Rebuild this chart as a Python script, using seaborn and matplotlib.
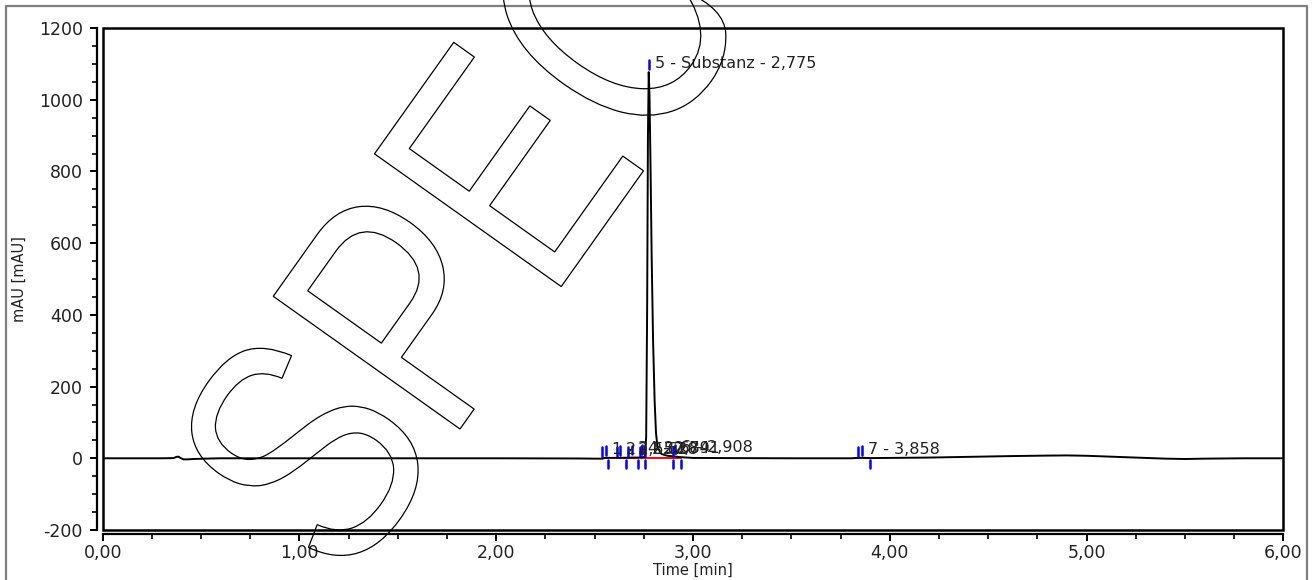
import matplotlib
matplotlib.use("Agg")
import numpy as np
import pandas as pd
import matplotlib.pyplot as plt
import seaborn as sns
from matplotlib.textpath import TextPath
from matplotlib.font_manager import FontProperties
from matplotlib.patches import PathPatch, Rectangle
from matplotlib.path import Path
from matplotlib.transforms import Affine2D, IdentityTransform
from matplotlib.ticker import MultipleLocator, FuncFormatter
from matplotlib.lines import Line2D

# ---------------- data ----------------
time_min = [0.00, 0.30, 0.36, 0.375, 0.385, 0.395, 0.41, 0.43, 0.46, 0.52, 0.60,
            1.00, 1.50, 2.00, 2.40, 2.50, 2.54, 2.557, 2.59, 2.628, 2.66, 2.689,
            2.72, 2.741, 2.756, 2.762, 2.767, 2.771, 2.775, 2.779, 2.784, 2.790,
            2.797, 2.805, 2.812, 2.820, 2.840, 2.870, 2.908, 2.94, 2.97, 3.00,
            3.20, 3.50, 3.80, 3.858, 3.90, 4.00, 4.20, 4.40, 4.60, 4.80, 4.90,
            5.00, 5.20, 5.40, 5.50, 5.60, 5.80, 6.00]
signal_mau = [0.0, 0.0, 0.5, 4.0, 4.5, 1.0, -3.0, -3.0, -2.0, -1.0, 0.0,
              0.0, 0.0, 0.0, -0.5, -1.0, -1.0, 1.5, 1.0, 1.5, 1.5, 2.0,
              2.0, 3.0, 4.0, 60.0, 420.0, 900.0, 1077.0, 1010.0, 820.0, 560.0,
              330.0, 160.0, 70.0, 30.0, 12.0, 7.0, 5.0, 3.0, 2.0, 1.0,
              0.5, 0.0, 0.0, 1.5, 0.5, 1.0, 2.0, 4.0, 6.0, 7.5, 8.0,
              7.0, 3.0, -1.0, -2.0, -1.0, 0.0, 0.0]

peak_labels = ["1 - 2,557", "2 - 2,628", "3 - 2,689", "4 - 2,741",
               "5 - Substanz - 2,775", "6 - 2,908", "7 - 3,858"]
peak_apex_time = [2.557, 2.628, 2.689, 2.741, 2.775, 2.908, 3.858]
peak_apex_height = [1.5, 1.5, 2.0, 3.0, 1077.0, 5.0, 1.5]
peak_start_time = [2.540, 2.613, 2.669, 2.730, 2.756, 2.897, 3.838]
peak_end_time = [2.567, 2.659, 2.720, 2.756, 2.897, 2.940, 3.900]

x_ticks = [0, 1, 2, 3, 4, 5, 6]
y_ticks = [-200, 0, 200, 400, 600, 800, 1000, 1200]

watermark_text = "SPEC"

# ---------------- figure ----------------
W, H = 1313, 580
sns.set_style("ticks")
plt.rcParams["font.family"] = ["DejaVu Sans"]
fig = plt.figure(figsize=(W / 100, H / 100), dpi=100)
fig.patch.set_facecolor("white")

left_px, right_px, top_px, bottom_px = 102.7, 1283.3, 28.0, 530.0
ax = fig.add_axes([left_px / W, 1 - bottom_px / H,
                   (right_px - left_px) / W, (bottom_px - top_px) / H])
ax.set_facecolor("white")

df = pd.DataFrame({"time": time_min, "signal": signal_mau})
sns.lineplot(data=df, x="time", y="signal", ax=ax, color="black",
             linewidth=1.4, estimator=None, sort=False, zorder=3)

# baselines and peak markers
blue = "#0000ff"
for lab, ta, ha_, ts, te in zip(peak_labels, peak_apex_time, peak_apex_height,
                                peak_start_time, peak_end_time):
    ax.plot([ts, te], [0.5, 0.5], color="red", lw=1.4, zorder=2)
    ax.plot([ts, ts], [5, 31], color=blue, lw=1.8, zorder=4)
    ax.plot([te, te], [-4, -26], color=blue, lw=1.8, zorder=4)
    ax.plot([ta, ta], [ha_ + 9, ha_ + 33], color=blue, lw=1.8, zorder=4)
    ax.annotate(lab, xy=(ta, ha_ + 24), xytext=(6, 0), textcoords="offset pixels",
                ha="left", va="center", fontsize=11.5, color="#222222", zorder=5)

ax.set_xlim(0, 6)
ax.set_ylim(-200, 1200)
ax.set_xticks(x_ticks)
ax.set_yticks(y_ticks)
ax.xaxis.set_minor_locator(MultipleLocator(0.25))
ax.yaxis.set_minor_locator(MultipleLocator(50))
ax.xaxis.set_major_formatter(FuncFormatter(lambda v, p: f"{v:.2f}".replace(".", ",")))
ax.yaxis.set_major_formatter(FuncFormatter(lambda v, p: f"{int(round(v))}"))

for s in ["top", "right"]:
    ax.spines[s].set_visible(False)
ax.spines["left"].set_position(("outward", 4.2))
ax.spines["bottom"].set_position(("outward", 2.9))
for s in ["left", "bottom"]:
    ax.spines[s].set_linewidth(1.6)
    ax.spines[s].set_color("black")

ax.tick_params(axis="both", which="major", direction="out", length=5.2, width=1.4,
               color="black", labelsize=12.5, labelcolor="#222222")
ax.tick_params(axis="both", which="minor", direction="out", length=3.4, width=1.2,
               color="black")
ax.tick_params(axis="y", which="major", pad=5)
ax.tick_params(axis="x", which="major", pad=2)

ax.add_patch(Rectangle((0, 0), 1, 1, transform=ax.transAxes, fill=False,
                       lw=1.8, edgecolor="black", clip_on=False, zorder=6))

ax.set_xlabel("")
ax.set_ylabel("")
fig.text(693 / W, 1 - 570 / H, "Time [min]", ha="center", va="center",
         fontsize=10.5, color="#222222")
fig.text(19 / W, 1 - 279 / H, "mAU [mAU]", ha="center", va="center",
         rotation=90, fontsize=10.5, color="#222222")

# outer gray frame
frame = Line2D([6, 6, 1306.5, 1306.5], [-10, H - 5.5, H - 5.5, -10],
               transform=IdentityTransform(), color="#7f7f7f", lw=1.6)
fig.add_artist(frame)

# watermark "SPEC" outline (letters placed with Arial-compatible advances)
fp = FontProperties(family="Liberation Sans")
advances = {"S": 0.667, "P": 0.667, "E": 0.667, "C": 0.722}
letter_paths = []
x_cursor = 0.0
p_left = None
for ch in watermark_text:
    lp = TextPath((x_cursor, 0), ch, size=1, prop=fp)
    if ch == "P":
        p_left = lp.get_extents().x0
    letter_paths.append(lp)
    x_cursor += advances[ch]
wm_path = Path.make_compound_path(*letter_paths)
A = Affine2D().scale(262.0, 333.0).rotate_deg(54.6)
p0 = A.transform([(p_left, 0.0)])[0]
A.translate(460 - p0[0], (H - 429) - p0[1])
wm = PathPatch(A.transform_path(wm_path), transform=IdentityTransform(), fill=False,
               edgecolor="black", lw=0.9, zorder=20)
fig.add_artist(wm)

fig.savefig("out.png", dpi=100, facecolor="white")
